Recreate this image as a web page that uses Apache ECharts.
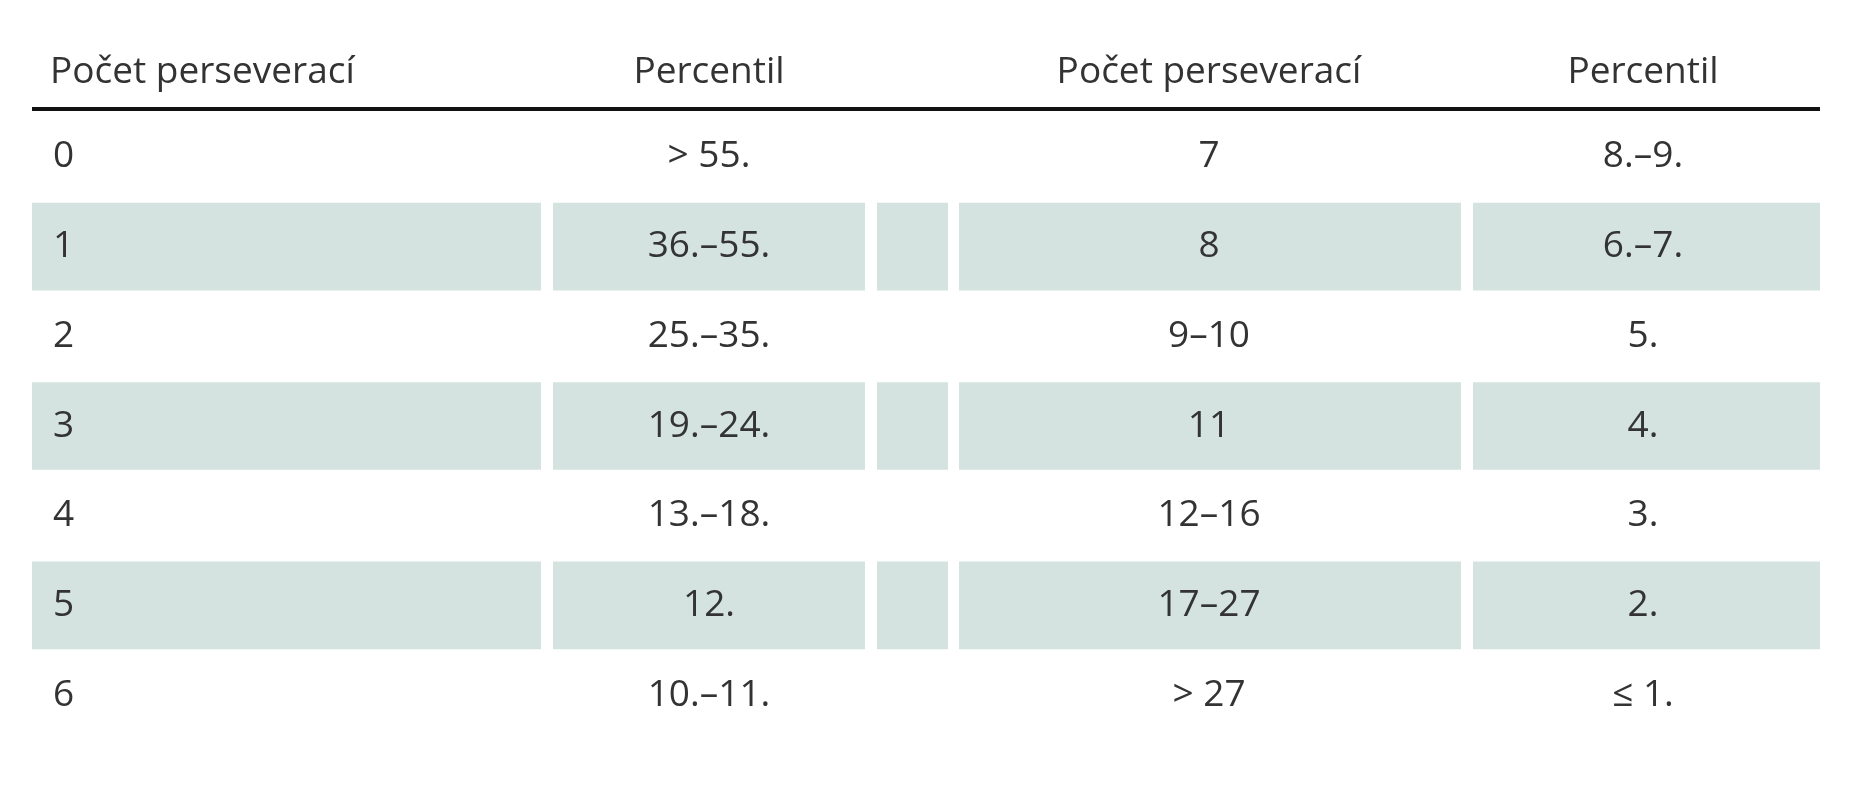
<!DOCTYPE html>
<html>
<head>
<meta charset="utf-8">
<script src="https://cdn.jsdelivr.net/npm/echarts@6/dist/echarts.min.js"></script>
<style>html,body{margin:0;padding:0;background:#fff}#main{width:1854px;height:800px}</style>
</head>
<body>
<div id="main"></div>
<script>
// table content
var headers = ['Počet perseverací', 'Percentil', 'Počet perseverací', 'Percentil'];
var countLeft = ['0', '1', '2', '3', '4', '5', '6'];
var pctLeft = ['> 55.', '36.–55.', '25.–35.', '19.–24.', '13.–18.', '12.', '10.–11.'];
var countRight = ['7', '8', '9–10', '11', '12–16', '17–27', '> 27'];
var pctRight = ['8.–9.', '6.–7.', '5.', '4.', '3.', '2.', '≤ 1.'];

var FONT = '"Liberation Sans Narrow", "Open Sans", sans-serif';
var cols = [[32, 541], [553, 865], [877, 948], [959, 1461], [1473, 1820]]; // band cells
var rows = [];
for (var i = 0; i < countLeft.length; i++) {
  rows.push([i, countLeft[i], pctLeft[i], countRight[i], pctRight[i]]);
}

function hdr(t, x, align) {
  return {type: 'text', x: x, y: 72, style: {text: t, font: '37px ' + FONT, fill: '#333', align: align, verticalAlign: 'middle'}};
}

var myChart = echarts.init(document.getElementById('main'));
var option = {
  animation: false,
  grid: {left: 0, right: 0, top: 112, bottom: 60},
  xAxis: {type: 'value', min: 0, max: 1854, show: false},
  yAxis: {type: 'category', inverse: true, data: countLeft, show: false},
  graphic: [
    {type: 'line', shape: {x1: 32, y1: 109, x2: 1820, y2: 109}, style: {stroke: '#111', lineWidth: 4}},
    hdr(headers[0], 50, 'left'),
    hdr(headers[1], 709, 'center'),
    hdr(headers[2], 1209, 'center'),
    hdr(headers[3], 1643, 'center')
  ],
  series: [{
    type: 'custom',
    data: rows,
    renderItem: function (params, api) {
      var idx = api.value(0);
      var c = api.coord([0, idx]);
      var h = api.size([0, 1])[1];
      var cy = c[1];
      var children = [];
      if (idx % 2 === 1) {
        cols.forEach(function (cl) {
          children.push({type: 'rect', shape: {x: cl[0], y: cy - h / 2 + 1, width: cl[1] - cl[0], height: h - 2}, style: {fill: '#d4e3df'}});
        });
      }
      var ts = function (t, x, align) {
        return {type: 'text', x: x, y: cy, style: {text: t, font: '37px ' + FONT, fill: '#333', align: align, verticalAlign: 'middle'}};
      };
      var d = rows[params.dataIndex];
      children.push(ts(d[1], 53, 'left'));
      children.push(ts(d[2], 709, 'center'));
      children.push(ts(d[3], 1209, 'center'));
      children.push(ts(d[4], 1643, 'center'));
      return {type: 'group', children: children};
    }
  }]
};
myChart.setOption(option);
</script>
</body>
</html>
